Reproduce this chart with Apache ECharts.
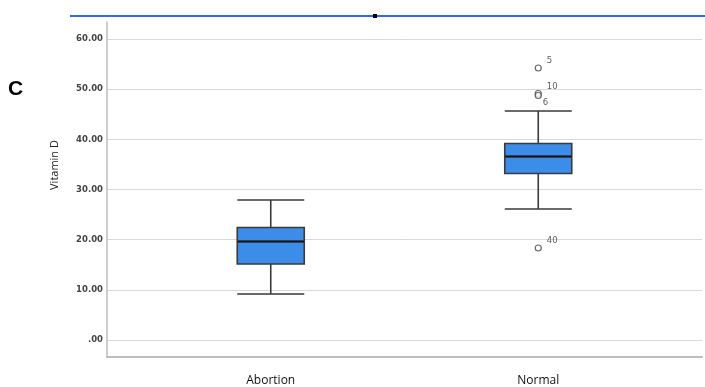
<!DOCTYPE html>
<html>
<head>
<meta charset="utf-8">
<script src="https://cdn.jsdelivr.net/npm/echarts@6/dist/echarts.min.js"></script>
<style>html,body{margin:0;padding:0;background:#fff;}#c{width:705px;height:387px;}</style>
</head>
<body>
<div id="c"></div>
<script>
const categories = ['Abortion', 'Normal'];
// [min whisker, Q1, median, Q3, max whisker]
const boxValues = [
  [9.0, 15.0, 19.5, 22.3, 27.8],
  [26.0, 33.1, 36.5, 39.1, 45.6]
];
// outliers: [category index, value, case label]
const outliers = [
  [1, 54.2, '5'],
  [1, 49.1, '10'],
  [1, 48.7, '6'],
  [1, 18.2, '40']
];
const yTicks = [0, 10, 20, 30, 40, 50, 60];

const labelOffsets = {'5': [4, -7], '10': [4, -7], '6': [0, 7], '40': [4, -7]};

const chart = echarts.init(document.getElementById('c'), null, {renderer: 'canvas'});
const yMin = -3.4, yMax = 63.4;
const catAxisHidden = {gridIndex: 1, type: 'category', data: categories, show: false};
chart.setOption({
  animation: false,
  backgroundColor: '#fff',
  graphic: [
    {type: 'line', shape: {x1: 70, y1: 16, x2: 705, y2: 16}, style: {stroke: '#2f6de6', lineWidth: 2}},
    {type: 'rect', shape: {x: 373, y: 14, width: 4, height: 4}, style: {fill: '#000'}},
    {type: 'text', left: 8, top: 79, style: {text: 'C', font: 'bold 21px "Liberation Sans", Arial, sans-serif', fill: '#000'}},
    {type: 'text', x: 55, y: 165, rotation: Math.PI / 2, style: {text: 'Vitamin D', font: '11px "Open Sans", "DejaVu Sans", sans-serif', fill: '#222', align: 'center', verticalAlign: 'middle'}}
  ],
  grid: [
    {left: 107, right: 3, top: 22, bottom: 30},
    {left: 137, right: 33, top: 22, bottom: 30}
  ],
  xAxis: [
    {gridIndex: 0, type: 'value', min: 0, max: 1, axisLine: {show: true, onZero: false, lineStyle: {color: '#bdbdbd', width: 2}}, axisTick: {show: false}, axisLabel: {show: false}, splitLine: {show: false}},
    {gridIndex: 1, type: 'category', data: categories, axisLine: {show: false}, axisTick: {show: false}, splitLine: {show: false},
      axisLabel: {margin: 19, fontSize: 12, color: '#111', fontFamily: '"Open Sans", "DejaVu Sans", sans-serif'}},
    catAxisHidden,
    Object.assign({}, catAxisHidden)
  ],
  yAxis: [
    {gridIndex: 0, type: 'value', min: yMin, max: yMax,
      axisLine: {show: true, lineStyle: {color: '#bdbdbd', width: 1.5}},
      axisTick: {show: false, customValues: yTicks},
      axisLabel: {customValues: yTicks, margin: 4, fontSize: 8.5, color: '#444', fontWeight: 'bold', fontFamily: '"DejaVu Sans", sans-serif',
        formatter: v => v === 0 ? '.00' : v.toFixed(2)},
      splitLine: {show: true, lineStyle: {color: '#d9d9d9', width: 1}}
    },
    {gridIndex: 1, type: 'value', min: yMin, max: yMax, show: false, splitLine: {show: false}}
  ],
  series: [
    {
      type: 'boxplot', xAxisIndex: 1, yAxisIndex: 1,
      data: boxValues,
      boxWidth: [67, 67],
      itemStyle: {color: '#3b8de8', borderColor: '#3a3a3a', borderWidth: 1.6},
      emphasis: {disabled: true}
    },
    {
      type: 'boxplot', xAxisIndex: 2, yAxisIndex: 1,
      data: boxValues.map(b => [b[2], b[2], b[2], b[2], b[2]]),
      boxWidth: [66, 66],
      itemStyle: {color: 'transparent', borderColor: '#111', borderWidth: 2},
      emphasis: {disabled: true},
      z: 3
    },
    {
      type: 'scatter', xAxisIndex: 3, yAxisIndex: 1,
      data: outliers.map(o => ({value: [categories[o[0]], o[1]], name: o[2],
        label: {offset: labelOffsets[o[2]]}})),
      symbol: 'circle', symbolSize: 6,
      itemStyle: {color: '#fff', borderColor: '#444', borderWidth: 1.2},
      label: {show: true, formatter: p => p.name, position: 'right', distance: 1, fontSize: 8.5, color: '#333', fontFamily: '"DejaVu Sans", sans-serif'},
      emphasis: {disabled: true}
    }
  ]
});
</script>
</body>
</html>
